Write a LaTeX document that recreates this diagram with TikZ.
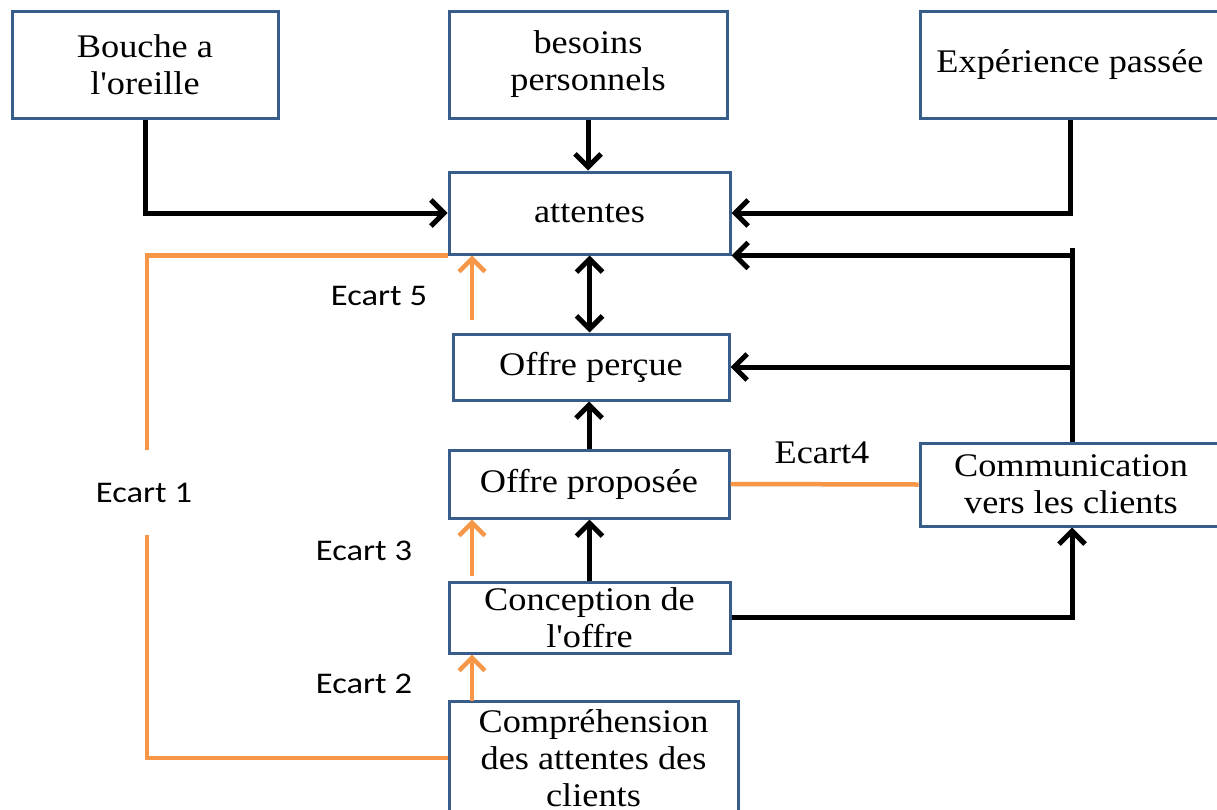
\documentclass[tikz,border=0pt]{standalone}
\usepackage{fontspec}
\setmainfont[FakeStretch=1.1,Ligatures=TeXOff]{Liberation Serif}
\newfontfamily\carl[FakeStretch=1.15]{Carlito}
\usetikzlibrary{arrows.meta}
\definecolor{boxblue}{RGB}{56,93,138}
\definecolor{gaporange}{RGB}{247,150,70}
\begin{document}
\begin{tikzpicture}[x=1pt,y=-1pt,
  box/.style={draw=boxblue, line width=3pt, fill=white, inner sep=0pt, align=center,
    font=\fontsize{33}{37}\selectfont},
  tip/.style={-{Straight Barb[length=13pt,width=26pt]}},
  conn/.style={line width=5pt, draw=black, tip},
  plain/.style={line width=5pt, draw=black},
  gapline/.style={line width=4.5pt, draw=gaporange},
  gaparrow/.style={line width=4.5pt, draw=gaporange, tip},
  sanslbl/.style={font=\carl\fontsize{30}{34}\selectfont, text=black, inner sep=0pt},
  seriflbl/.style={font=\fontsize{33}{37}\selectfont, text=black, inner sep=0pt}
]
\clip (0,0) rectangle (1217,809);
\fill[white] (0,0) rectangle (1217,809);

% boxes
\node[box, minimum width=266pt, minimum height=107pt] (bouche) at (145,64.5) {Bouche a\\l'oreille};
\node[box, minimum width=278pt, minimum height=107pt] (besoins) at (588,64.5) {besoins\\personnels};
\node[box, minimum width=300pt, minimum height=107pt] (exp) at (1070,64.5) {Expérience passée};
\node[box, minimum width=281pt, minimum height=82pt] (attentes) at (589.5,213) {attentes};
\node[box, minimum width=276pt, minimum height=66pt] (percue) at (591,367) {Offre perçue};
\node[box, minimum width=280pt, minimum height=68pt] (proposee) at (589,484) {Offre proposée};
\node[box, minimum width=281pt, minimum height=71pt] (conception) at (589.5,617.5) {Conception de\\l'offre};
\node[box, minimum width=289pt, minimum height=114pt] (comprehension) at (593.5,758) {Compréhension\\des attentes des\\clients};
\node[box, minimum width=302pt, minimum height=83pt] (comm) at (1071,484.5) {Communication\\vers les clients};

% black connectors
\draw[conn] (bouche.south) |- (attentes.west);
\draw[conn] (besoins.south) -- (besoins.south |- attentes.north);
\draw[conn] (exp.south) |- (attentes.east);
\coordinate (ctop) at (1072,248);
\draw[plain] (ctop) -- (ctop |- comm.north);
\draw[conn] (ctop |- attentes.south east) -- (attentes.south east);
\draw[conn] (ctop |- percue.east) -- (percue.east);
\draw[line width=5pt, {Straight Barb[length=13pt,width=26pt]}-{Straight Barb[length=13pt,width=26pt]}]
  (attentes.south) -- (attentes.south |- percue.north);
\draw[conn] (proposee.north) -- (proposee.north |- percue.south);
\draw[conn] (conception.north) -- (conception.north |- proposee.south);
\draw[conn] (conception.east) -| (ctop |- comm.south);

% orange gaps
\coordinate (e1a) at (147,450);
\coordinate (e1b) at (147,535);
\draw[gapline] (attentes.south west) -| (e1a);
\draw[gapline] (e1b) |- (comprehension.west);
\coordinate (e5) at (472,320);
\coordinate (e3) at (472,576);
\coordinate (e2) at (472,701);
\draw[gaparrow] (e5) -- (e5 |- attentes.south);
\draw[gaparrow] (e3) -- (e3 |- proposee.south);
\draw[gaparrow] (e2) -- (e2 |- conception.south);
\draw[gapline] (proposee.east) -- (comm.west);

% labels
\node[sanslbl] (l1) at (144,493) {Ecart 1};
\node[sanslbl] (l5) at (379,296) {Ecart 5};
\node[sanslbl] (l3) at (364,551) {Ecart 3};
\node[sanslbl] (l2) at (364,684) {Ecart 2};
\node[seriflbl] (l4) at (822,453) {Ecart4};
\end{tikzpicture}
\end{document}
